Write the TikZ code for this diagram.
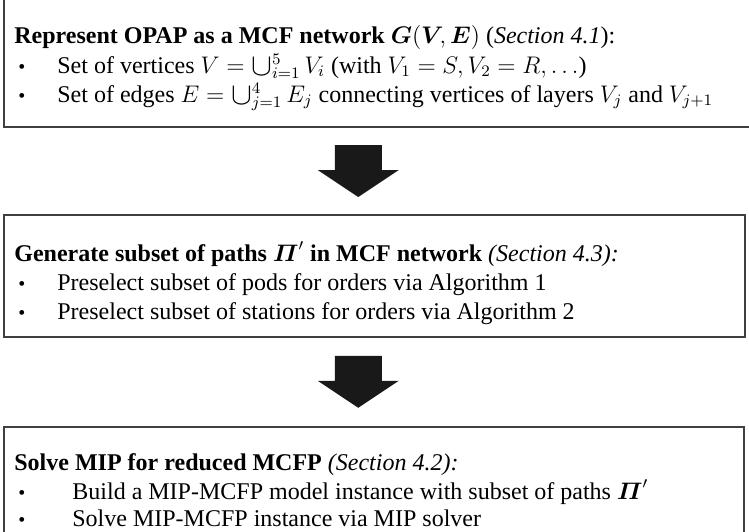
\documentclass[tikz,border=0pt]{standalone}
\usepackage{amsmath}
\usepackage{fontspec}
\setmainfont{Liberation Serif}
\usetikzlibrary{calc}

\tikzset{
  box/.style={draw=black!75, line width=1pt, rectangle, inner sep=0pt},
  headline/.style={anchor=base west, inner sep=0pt, text depth=2pt, font=\fontsize{12}{14}\selectfont},
  bulletdot/.style={anchor=base, inner sep=0pt, font=\fontsize{10}{12}\selectfont},
  itemtext/.style={anchor=base west, inner sep=0pt, text height=9pt, font=\fontsize{12}{14}\selectfont},
  arrowfill/.style={fill=black!90}
}

% union sign with side limits
\newcommand\layerunion{\mathop{\vcenter{\hbox{\scalebox{1.3}{$\cup$}}}}\nolimits}

% block arrow pointing down, centred on a coordinate
\newcommand\bigarrow[1]{%
  \fill[arrowfill] ([shift={(-23.5,-26)}]#1) -- ([shift={(23.5,-26)}]#1)
    -- ([shift={(23.5,-1)}]#1) -- ([shift={(40.5,-1)}]#1)
    -- ([shift={(0,26)}]#1) -- ([shift={(-40.5,-1)}]#1)
    -- ([shift={(-23.5,-1)}]#1) -- cycle;}

\begin{document}
\begin{tikzpicture}[x=0.5pt,y=-0.5pt]
\useasboundingbox (0,0) rectangle (749,531);

% the three steps
\node[box, minimum width=374pt, minimum height=64pt] (b1) at (378,63) {};
\node[box, minimum width=370.5pt, minimum height=61pt] (b2) at (374.5,276) {};
\node[box, minimum width=370pt, minimum height=57pt] (b3) at (374,483.5) {};

% step 1
\node[headline] (t1) at (14,43) {\textbf{Represent OPAP as a MCF network $\boldsymbol{G}(\boldsymbol{V}\!,\boldsymbol{E})$} (\textit{Section 4.1}):};
\node[bulletdot] (d1a) at (22,73) {•};
\node[itemtext] (i1a) at (57,73) {Set of vertices $V=\layerunion_{i=1}^{5}V_i$ (with $V_1=S, V_2=R, \ldots$)};
\node[bulletdot] (d1b) at (22,102) {•};
\node[itemtext] (i1b) at (57,102) {Set of edges $E=\layerunion_{j=1}^{4}E_j$ connecting vertices of layers $V_j$ and $V_{j+1}$};

% step 2
\node[headline] (t2) at (14,261) {\textbf{Generate subset of paths $\boldsymbol{\varPi}'$ in MCF network} \textit{(Section 4.3):}};
\node[bulletdot] (d2a) at (22,290) {•};
\node[itemtext] (i2a) at (57,290) {Preselect subset of pods for orders via Algorithm 1};
\node[bulletdot] (d2b) at (22,319) {•};
\node[itemtext] (i2b) at (57,319) {Preselect subset of stations for orders via Algorithm 2};

% step 3
\node[headline] (t3) at (14,470) {\textbf{Solve MIP for reduced MCFP} \textit{(Section 4.2):}};
\node[bulletdot] (d3a) at (22,499) {•};
\node[itemtext] (i3a) at (72,499) {Build a MIP-MCFP model instance with subset of paths $\boldsymbol{\varPi}'$};
\node[bulletdot] (d3b) at (22,526) {•};
\node[itemtext, text depth=0pt] (i3b) at (72,526) {Solve MIP-MCFP instance via MIP solver};

% arrows between the steps
\coordinate (a1) at ($(b1.south)!.5!(b2.north)+(-18,0)$);
\coordinate (a2) at ($(b2.south)!.5!(b3.north)+(-16,0)$);
\bigarrow{a1}
\bigarrow{a2}
\end{tikzpicture}
\end{document}
